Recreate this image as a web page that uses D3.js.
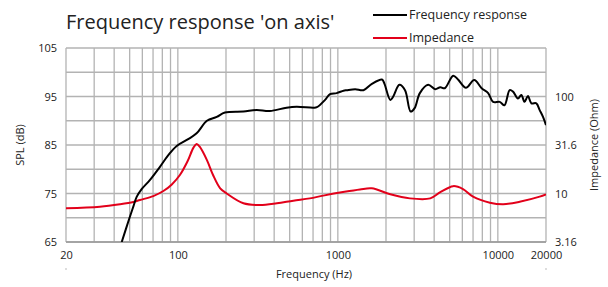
<!DOCTYPE html>
<meta charset="utf-8">
<script src="https://d3js.org/d3.v7.min.js"></script>
<style>
  body { margin: 0; background: #fff; }
  text { font-family: "Open Sans", sans-serif; fill: #222; }
</style>
<div id="my_dataviz"></div>
<script>

// SPL (dB)
var splFreq = [44.6, 49.8, 52.7, 55.3, 59.4, 67, 77.3, 87.2, 98.4, 116, 131, 152, 175, 197, 257, 310, 376, 478, 552, 704, 740, 832, 894, 984, 1085, 1137, 1284, 1446, 1632, 1887, 1952, 2128, 2220, 2425, 2630, 2850, 3020, 3256, 3670, 4060, 4370, 4660, 5260, 5640, 6320, 7120, 7920, 8700, 9340, 10280, 11000, 11860, 12440, 13360, 14020, 14700, 15420, 16200, 17400, 18260, 19160, 20000];
var splValues = [65, 69.9, 72.3, 74.3, 75.9, 77.8, 80.5, 82.9, 84.8, 86.2, 87.4, 90, 90.8, 91.7, 91.9, 92.2, 92, 92.7, 92.9, 92.7, 92.8, 94.3, 95.5, 95.7, 96.2, 96.3, 96.5, 96.3, 97.6, 98.5, 97.7, 94.3, 95, 97.4, 96.3, 91.9, 92.6, 95.7, 97.4, 96.5, 96.9, 96.7, 99.3, 98.5, 96.8, 98.4, 96.7, 95.7, 93.9, 93.9, 93.2, 96.3, 96, 94.6, 95.3, 93.9, 95.1, 93.6, 93.6, 92.2, 90.8, 89.1];

// impedance (Ohm)
var impFreq = [20, 32.6, 43.5, 52.7, 58, 70.2, 81.2, 91.7, 103, 115, 125, 131, 137, 152, 166, 184, 202, 257, 326, 416, 527, 668, 810, 1100, 1374, 1630, 2128, 2820, 3780, 4370, 5260, 6060, 7000, 8920, 10800, 13700, 18260, 20000];
var impValues = [7.03, 7.3, 7.74, 8.17, 8.57, 9.4, 10.6, 12.4, 15.5, 21.5, 29.5, 32.4, 30.4, 22.1, 15.5, 11.3, 10.0, 7.92, 7.6, 7.92, 8.43, 8.9, 9.5, 10.4, 11.0, 11.3, 9.8, 8.9, 8.9, 10.3, 11.9, 11.1, 9.27, 8.04, 7.74, 8.22, 9.27, 9.8];

// axis ticks
var freqLabels = [20, 100, 1000, 10000, 20000];
var freqGrid = [20, 30, 40, 50, 60, 70, 80, 90, 100, 200, 300, 400, 500, 600, 700, 800, 900, 1000,
                2000, 3000, 4000, 5000, 6000, 7000, 8000, 9000, 10000, 20000];
var splGrid = [65, 70, 75, 80, 85, 90, 95, 100, 105];
var splLabels = [65, 75, 85, 95, 105];
var impLabels = [3.16, 10, 31.6, 100];
var impLabelText = ["3.16", "10", "31.6", "100"];

var margin = {top: 48, right: 62, bottom: 45, left: 66},
    width = 608 - margin.left - margin.right,
    height = 287 - margin.top - margin.bottom;

var root = d3.select("#my_dataviz")
  .append("svg")
    .attr("width", 608)
    .attr("height", 287);

var svg = root.append("g")
    .attr("transform", "translate(" + margin.left + "," + margin.top + ")");

var x = d3.scaleLog().domain([20, 20000]).range([0, width]);
var y = d3.scaleLinear().domain([65, 105]).range([height, 0]);
var yImp = d3.scaleLog().domain([3.16, 316]).range([height, 0]);

// grid
svg.selectAll(".vgrid")
  .data(freqGrid)
  .enter().append("line")
    .attr("x1", function(d) { return x(d); })
    .attr("x2", function(d) { return x(d); })
    .attr("y1", 0).attr("y2", height)
    .attr("stroke", "#b3b3b3").attr("stroke-width", 1.3);

svg.selectAll(".hgrid")
  .data(splGrid)
  .enter().append("line")
    .attr("x1", 0).attr("x2", width)
    .attr("y1", function(d) { return y(d); })
    .attr("y2", function(d) { return y(d); })
    .attr("stroke", "#b3b3b3").attr("stroke-width", 1.3);

svg.append("line")
  .attr("x1", 0).attr("x2", width).attr("y1", height).attr("y2", height)
  .attr("stroke", "#999").attr("stroke-width", 1.3);

// axes (labels only, the grid draws the lines)
var xAxis = svg.append("g")
  .attr("transform", "translate(0," + height + ")")
  .call(d3.axisBottom(x).tickValues(freqLabels).tickFormat(d3.format("d")).tickSize(0).tickPadding(9));

var yAxis = svg.append("g")
  .call(d3.axisLeft(y).tickValues(splLabels).tickSize(0).tickPadding(9));

var yAxisR = svg.append("g")
  .attr("transform", "translate(" + width + ",0)")
  .call(d3.axisRight(yImp).tickValues(impLabels)
    .tickFormat(function(d, i) { return impLabelText[i]; }).tickSize(0).tickPadding(9));

[xAxis, yAxis, yAxisR].forEach(function(a) {
  a.select(".domain").remove();
  a.selectAll("text").style("font-size", "11px").style("font-family", "Open Sans, sans-serif").attr("fill", "#222");
});

// little dashes under the end labels
svg.selectAll(".dash")
  .data([20, 20000])
  .enter().append("line")
    .attr("x1", function(d) { return x(d) - 1; })
    .attr("x2", function(d) { return x(d) + 1; })
    .attr("y1", height + 27).attr("y2", height + 27)
    .attr("stroke", "#bbb").attr("stroke-width", 1);

// axis titles
svg.append("text")
  .attr("x", width / 2 + 8)
  .attr("y", height + 36)
  .style("text-anchor", "middle")
  .style("font-size", "11px")
  .text("Frequency (Hz)");

svg.append("text")
  .attr("transform", "rotate(-90)")
  .attr("x", -height / 2)
  .attr("y", -42)
  .style("text-anchor", "middle")
  .style("font-size", "11px")
  .text("SPL (dB)");

svg.append("text")
  .attr("transform", "rotate(-90)")
  .attr("x", -height / 2)
  .attr("y", width + 52)
  .style("text-anchor", "middle")
  .style("font-size", "11px")
  .text("Impedance (Ohm)");

// curves
svg.append("clipPath").attr("id", "plotclip")
  .append("rect").attr("y", -2).attr("width", width).attr("height", height + 2);

var splData = splFreq.map(function(f, i) { return [f, splValues[i]]; });
var impData = impFreq.map(function(f, i) { return [f, impValues[i]]; });

svg.append("path")
  .datum(impData)
  .attr("clip-path", "url(#plotclip)")
  .attr("fill", "none")
  .attr("stroke", "#e2001a")
  .attr("stroke-width", 2)
  .attr("d", d3.line()
    .curve(d3.curveCatmullRom.alpha(0.5))
    .x(function(d) { return x(d[0]); })
    .y(function(d) { return yImp(d[1]); }));

svg.append("path")
  .datum(splData)
  .attr("clip-path", "url(#plotclip)")
  .attr("fill", "none")
  .attr("stroke", "black")
  .attr("stroke-width", 2)
  .attr("d", d3.line()
    .curve(d3.curveCatmullRom.alpha(0.5))
    .x(function(d) { return x(d[0]); })
    .y(function(d) { return y(d[1]); }));

// title + legend
root.append("text")
  .attr("x", 66).attr("y", 29)
  .style("font-size", "20px")
  .text("Frequency response 'on axis'");

var legend = [["Frequency response", "black"], ["Impedance", "#e2001a"]];
legend.forEach(function(l, i) {
  root.append("line")
    .attr("x1", 373).attr("x2", 407)
    .attr("y1", 15 + i * 23).attr("y2", 15 + i * 23)
    .attr("stroke", l[1]).attr("stroke-width", 2);
  root.append("text")
    .attr("x", 409).attr("y", 19 + i * 23)
    .style("font-size", "12.5px")
    .text(l[0]);
});

</script>
